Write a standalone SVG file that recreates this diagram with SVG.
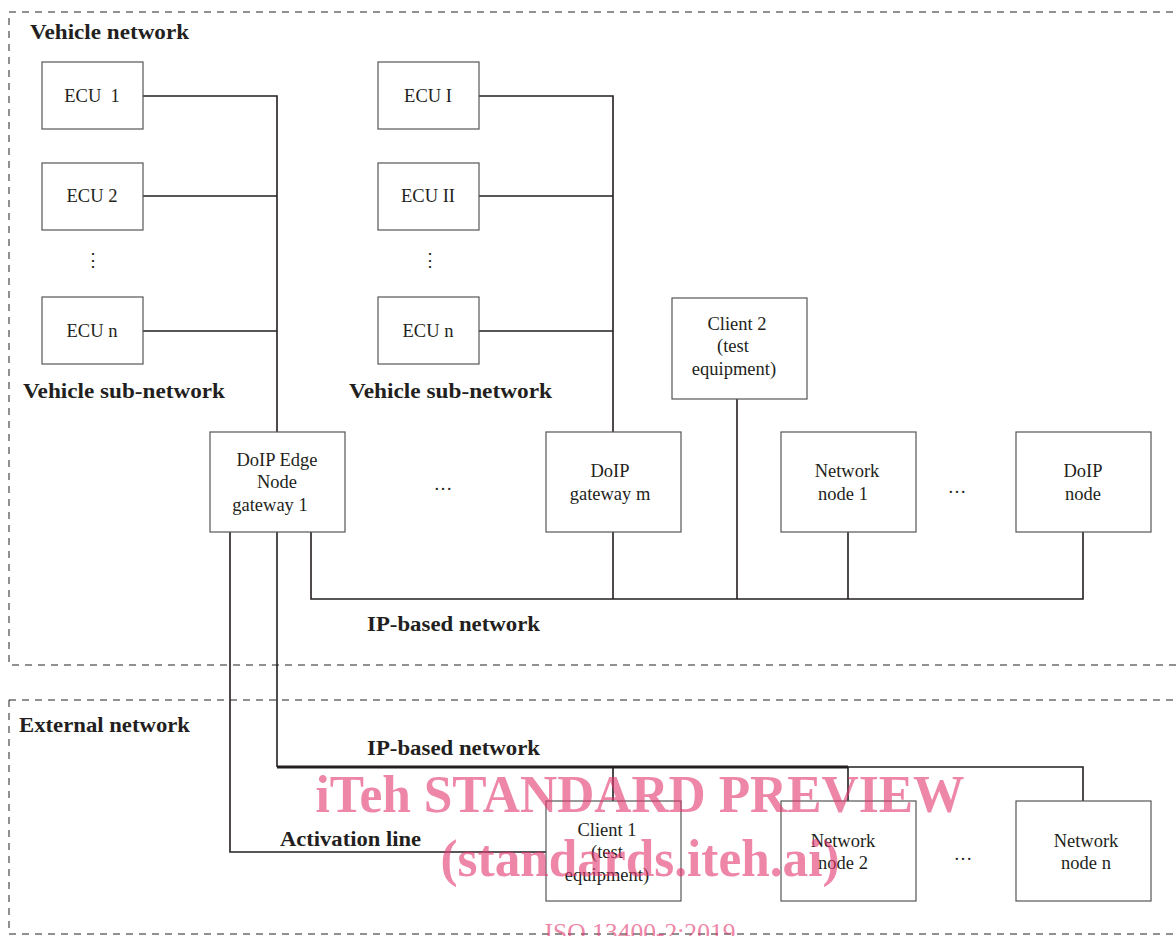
<svg xmlns="http://www.w3.org/2000/svg" width="1176" height="936" viewBox="0 0 1176 936">
<style>
  .frame { fill: none; stroke: #222; stroke-width: 1; stroke-dasharray: 7 6; }
  .box { fill: #fff; stroke: #555; stroke-width: 1.2; }
  .t { font-family: "Liberation Serif", "Times New Roman", serif; font-size: 18.5px; fill: #231f20; text-anchor: middle; }
  .b { font-family: "Liberation Serif", "Times New Roman", serif; font-size: 20px; font-weight: bold; fill: #231f20; }
  .dots { font-family: "DejaVu Serif", serif; font-size: 18px; fill: #231f20; text-anchor: middle; }
  .wire { fill: none; stroke: #231f20; stroke-width: 1.6; }
  .thick { fill: none; stroke: #231f20; stroke-width: 3; }
  .wm { font-family: "Liberation Serif", "Times New Roman", serif; font-weight: bold; fill: #e4366f; opacity: 0.6; text-anchor: middle; }
</style>
<rect width="1176" height="936" fill="#fff"/>

<!-- region frames -->
<rect class="frame" x="9" y="12" width="1180" height="653"/>
<rect class="frame" x="9" y="700" width="1180" height="234"/>

<!-- region labels -->
<text class="b" x="30" y="39" textLength="159" lengthAdjust="spacingAndGlyphs">Vehicle network</text>
<text class="b" x="23" y="398" textLength="202" lengthAdjust="spacingAndGlyphs">Vehicle sub-network</text>
<text class="b" x="349" y="398" textLength="203" lengthAdjust="spacingAndGlyphs">Vehicle sub-network</text>
<text class="b" x="367" y="631" textLength="173" lengthAdjust="spacingAndGlyphs">IP-based network</text>
<text class="b" x="19" y="732" textLength="171" lengthAdjust="spacingAndGlyphs">External network</text>
<text class="b" x="367" y="755" textLength="173" lengthAdjust="spacingAndGlyphs">IP-based network</text>
<text class="b" x="280" y="846" textLength="141" lengthAdjust="spacingAndGlyphs">Activation line</text>

<!-- connectors -->
<g id="connectors">
  <path class="wire" d="M143,96 H277 V432 M143,196 H277 M143,331 H277"/>
  <path class="wire" d="M479,96 H613 V432 M479,196 H613 M479,331 H613"/>
  <path class="wire" d="M311,532 V599 H1083 V532 M613,532 V599 M737,399 V599 M848,532 V599"/>
  <path class="wire" d="M230,532 V852 H546"/>
  <path class="wire" d="M277,532 V767"/>
  <path class="thick" d="M277,767 H848"/>
  <path class="wire" d="M848,767 H1083 V801 M613,767 V801 M848,767 V801"/>
</g>

<!-- nodes -->
<g id="ecu1"><rect class="box" x="42" y="62" width="101" height="67"/><text class="t" x="92" y="102" xml:space="preserve">ECU  1</text></g>
<g id="ecu2"><rect class="box" x="42" y="163" width="101" height="67"/><text class="t" x="92" y="202">ECU 2</text></g>
<g id="ecun1"><rect class="box" x="42" y="297" width="101" height="67"/><text class="t" x="92" y="337">ECU n</text></g>
<g id="ecuI"><rect class="box" x="378" y="62" width="101" height="67"/><text class="t" x="428" y="102">ECU I</text></g>
<g id="ecuII"><rect class="box" x="378" y="163" width="101" height="67"/><text class="t" x="428" y="202">ECU II</text></g>
<g id="ecun2"><rect class="box" x="378" y="297" width="101" height="67"/><text class="t" x="428" y="337">ECU n</text></g>
<text class="dots" x="93" y="266">⋮</text>
<text class="dots" x="430" y="266">⋮</text>

<g id="gw1"><rect class="box" x="210" y="432" width="135" height="100"/>
  <text class="t" x="277" y="466">DoIP Edge</text><text class="t" x="277" y="488">Node</text><text class="t" x="270" y="511">gateway 1</text></g>
<text class="t" x="443" y="490">…</text>
<g id="gwm"><rect class="box" x="546" y="432" width="135" height="100"/>
  <text class="t" x="610" y="477">DoIP</text><text class="t" x="610" y="500">gateway m</text></g>
<g id="client2"><rect class="box" x="672" y="298" width="135" height="101"/>
  <text class="t" x="737" y="330">Client 2</text><text class="t" x="733" y="352">(test</text><text class="t" x="734" y="375">equipment)</text></g>
<g id="nn1"><rect class="box" x="781" y="432" width="135" height="100"/>
  <text class="t" x="847" y="477">Network</text><text class="t" x="843" y="500">node 1</text></g>
<text class="t" x="957" y="493">…</text>
<g id="doipnode"><rect class="box" x="1016" y="432" width="135" height="100"/>
  <text class="t" x="1083" y="477">DoIP</text><text class="t" x="1083" y="500">node</text></g>

<g id="client1"><rect class="box" x="546" y="801" width="135" height="100"/>
  <text class="t" x="607" y="836">Client 1</text><text class="t" x="607" y="858">(test</text><text class="t" x="607" y="881">equipment)</text></g>
<g id="nn2"><rect class="box" x="781" y="801" width="135" height="100"/>
  <text class="t" x="843" y="847">Network</text><text class="t" x="843" y="869">node 2</text></g>
<text class="t" x="963" y="860">…</text>
<g id="nnn"><rect class="box" x="1016" y="801" width="135" height="100"/>
  <text class="t" x="1086" y="847">Network</text><text class="t" x="1086" y="869">node n</text></g>

<!-- watermark -->
<text class="wm" x="640" y="812" font-size="52" textLength="649" lengthAdjust="spacingAndGlyphs">iTeh STANDARD PREVIEW</text>
<text class="wm" x="640" y="876" font-size="52" textLength="399" lengthAdjust="spacingAndGlyphs">(standards.iteh.ai)</text>
<text class="wm" x="640" y="941" font-size="26" style="font-weight:normal" textLength="191" lengthAdjust="spacingAndGlyphs">ISO 13400-2:2019</text>
</svg>
